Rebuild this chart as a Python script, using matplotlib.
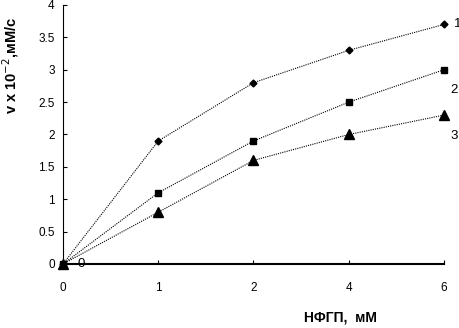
import matplotlib
matplotlib.use("Agg")
import matplotlib.pyplot as plt
import numpy as np

plt.rcParams['font.family'] = ['Liberation Sans', 'DejaVu Sans']

x_labels = ["0", "1", "2", "4", "6"]
seria_1 = [0, 1.9, 2.8, 3.3, 3.7]
seria_2 = [0, 1.1, 1.9, 2.5, 3.0]
seria_3 = [0, 0.8, 1.6, 2.0, 2.3]
y_ticks = [0, 0.5, 1, 1.5, 2, 2.5, 3, 3.5, 4]

pos = np.arange(len(x_labels))

fig = plt.figure(figsize=(4.6, 3.28), dpi=100)
ax = fig.add_axes([63 / 460, 64 / 328, 381 / 460, 259 / 328])

styl = dict(color='black', linestyle=(0, (1, 1)), linewidth=0.8)
ax.plot(pos, seria_1, marker='D', markersize=3.5, **styl)
ax.plot(pos, seria_2, marker='s', markersize=4.5, **styl)
ax.plot(pos, seria_3, marker='^', markersize=6.5, **styl)

ax.set_xlim(0, 4)
ax.set_ylim(0, 4)
ax.set_xticks(pos)
ax.set_xticklabels(x_labels)
ax.set_yticks(y_ticks)
ax.set_yticklabels([f"{v:g}" for v in y_ticks])
ax.tick_params(direction='in', length=3, width=0.8, labelsize=8.5, pad=6)
ax.tick_params(axis='x', pad=13)

for s in ['top', 'right']:
    ax.spines[s].set_visible(False)
ax.spines['bottom'].set_linewidth(1.5)
ax.spines['left'].set_linewidth(0.8)

for p in ax.lines:
    p.set_clip_on(False)

# podpisy krzywych
ax.text(4.1, seria_1[-1], "1", fontsize=9.5, va='center', ha='left')
ax.text(4.07, seria_2[-1] - 0.32, "2", fontsize=9.5, va='center', ha='left')
ax.text(4.07, seria_3[-1] - 0.32, "3", fontsize=9.5, va='center', ha='left')
ax.text(0.15, 0.0, "0", fontsize=9.5, va='center', ha='left')

fig.text(340 / 460, 1 - 317 / 328, "НФГП,  мМ", fontsize=10, fontweight='bold',
         ha='center', va='center')
fig.text(11 / 460, 1 - 65 / 328, "v x 10$^{-2}$,мМ/с", fontsize=10.5, fontweight='bold',
         rotation=90, ha='center', va='center')

fig.savefig("out.png", dpi=100)
